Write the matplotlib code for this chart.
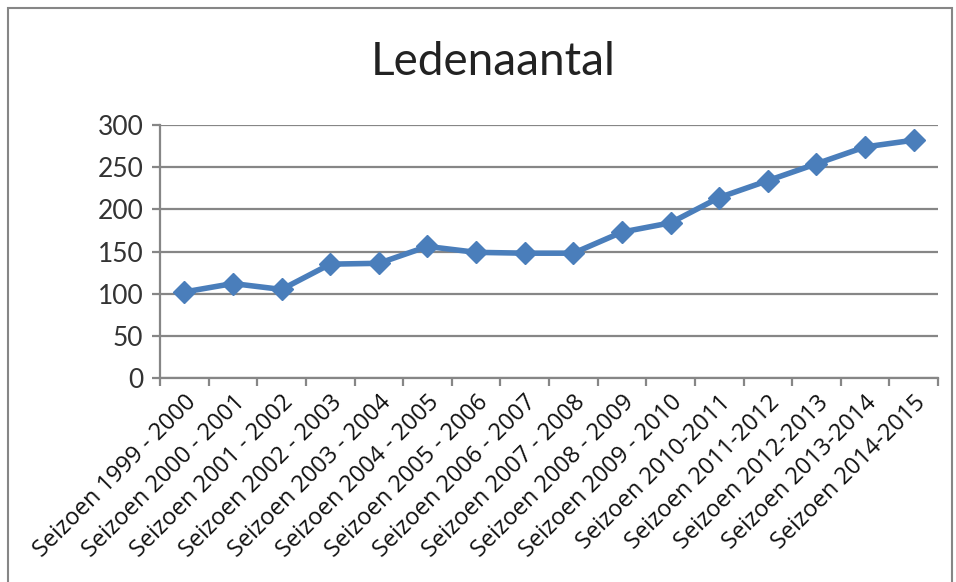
import matplotlib
matplotlib.use('Agg')
import matplotlib.pyplot as plt
from matplotlib.patches import Rectangle
import numpy as np

seizoenen = ['Seizoen 1999 - 2000', 'Seizoen 2000 - 2001', 'Seizoen 2001 - 2002',
             'Seizoen 2002 - 2003', 'Seizoen 2003 - 2004', 'Seizoen 2004 - 2005',
             'Seizoen 2005 - 2006', 'Seizoen 2006 - 2007', 'Seizoen 2007 - 2008',
             'Seizoen 2008 - 2009', 'Seizoen 2009 - 2010', 'Seizoen 2010-2011',
             'Seizoen 2011-2012', 'Seizoen 2012-2013', 'Seizoen 2013-2014',
             'Seizoen 2014-2015']
leden = [102, 112, 105, 135, 136, 156, 149, 148, 148, 173, 184, 214, 234, 254, 274, 282]
y_ticks = [0, 50, 100, 150, 200, 250, 300]

grid_col = '#868686'
line_col = '#4A7EBB'

fig = plt.figure(figsize=(9.56, 5.82), dpi=100)
ax = fig.add_axes([160/956, 1 - 378/582, (938 - 160)/956, (378 - 125)/582])

x = np.arange(len(leden))
ax.plot(x, leden, color=line_col, lw=4, marker='D', markersize=11.5,
        markerfacecolor=line_col, markeredgecolor=line_col, zorder=3)

ax.set_xlim(-0.5, len(leden) - 0.5)
ax.set_ylim(0, 300)
ax.set_yticks(y_ticks)
ax.set_yticklabels([str(v) for v in y_ticks], fontsize=19, family='Lato',
                   color='#333333')
ax.yaxis.grid(True, color=grid_col, lw=1.6)
ax.set_axisbelow(True)

# category ticks between points, labels at centres
ax.set_xticks(x)
ax.set_xticklabels(seizoenen, rotation=45, ha='right', va='top', rotation_mode='anchor',
                   fontsize=17, family='Open Sans', color='#111111')
ax.tick_params(axis='x', length=0, pad=9)
ax.set_xticks(np.arange(-0.5, len(leden)), minor=True)
ax.tick_params(axis='x', which='minor', length=6, width=1.6, color=grid_col, direction='out')
ax.tick_params(axis='y', length=6, width=1.6, color=grid_col, pad=6)

for s in ['top', 'right']:
    ax.spines[s].set_visible(False)
for s in ['left', 'bottom']:
    ax.spines[s].set_color(grid_col)
    ax.spines[s].set_linewidth(1.6)

fig.text(493/956, 1 - 62/582, 'Ledenaantal', ha='center', va='center',
         fontsize=33, family='Lato', color='#222222')

fig.patches.append(Rectangle((8/956, -0.1), (952 - 8)/956, 1.1 - 8/582,
                             transform=fig.transFigure, fill=False,
                             edgecolor=grid_col, lw=1.5))

fig.savefig('out.png', dpi=100)
